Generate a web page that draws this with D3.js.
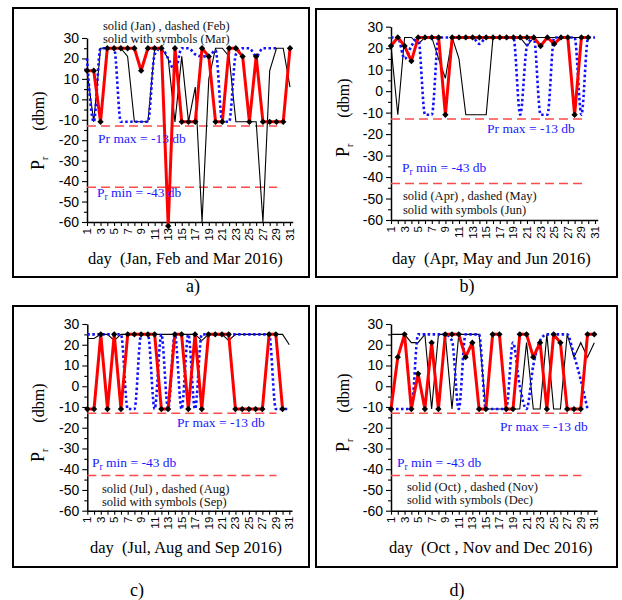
<!DOCTYPE html>
<html><head><meta charset="utf-8">
<script src="https://cdn.jsdelivr.net/npm/d3@7"></script>
<style>body{margin:0;background:#fff}</style>
</head><body><svg id="c" width="622" height="600"></svg>
<script>
// ---------------- DATA ----------------
const days = d3.range(1, 32);
const yTickValues = [-60, -50, -40, -30, -20, -10, 0, 10, 20, 30];
const yMinorValues = [-55, -45, -35, -25, -15, -5, 5, 15, 25];
const xLabelDays = [1, 3, 5, 7, 9, 11, 13, 15, 17, 19, 21, 23, 25, 27, 29, 31];
const prMax = -13, prMin = -43;

// Panel a
const jan = [14,-11,25,25,25,25,21,-11,-11,-11,25,25,20,-11,21,-11,6,-60,10,25,25,21,-11,-11,-11,-11,-60,14,25,25,6];
const feb = [20,-11,25,25,25,-11,-11,-11,-11,-11,22,25,20,14,25,25,22,21,21,24,-11,-11,22,25,25,21,25,25,25];
const mar = [14,14,-11,25,25,25,25,25,14,25,25,25,-62,25,-11,-11,-11,25,21,-11,-11,25,25,21,-11,21,-11,-11,-11,-11,25];
// Panel b
const apr = [21,-11,25,25,22,25,25,15,6,25,15,-11,-11,-11,-11,25,25,25,25,25,21,25,25,25,25,25,25,25,25,25];
const may = [25,25,15,21,25,-11,-11,25,25,25,25,25,25,22,25,25,25,25,25,-11,21,25,-11,-11,25,25,25,25,-11,25,25];
const jun = [21,25,21,14,25,25,25,25,-11,25,25,25,25,25,25,25,25,25,25,25,25,25,21,25,22,25,25,-11,25,25];
// Panel c
const jul = [23,23,25,25,22,25,25,25,25,25,25,25,25,25,25,25,25,22,25,25,25,22,25,25,25,25,25,25,25,25,20];
const aug = [25,25,25,25,25,25,-11,-11,25,25,-11,25,-11,25,-11,25,-11,25,25,25,25,25,25,25,25,25,25,25,-11,-11,-11];
const sep = [-11,-11,25,-11,25,-11,25,25,25,25,25,-11,-11,25,25,-11,25,-11,25,25,25,25,-11,-11,-11,-11,-11,25,25,-11];
// Panel d
const oct = [25,25,25,21,21,25,-11,25,25,-11,25,25,25,25,-11,-11,-11,-11,-11,-11,21,-11,-11,25,-11,-11,25,14,21,14,21];
const nov = [-11,-11,-11,-11,25,25,25,25,25,22,-11,25,25,25,-11,-11,-11,-11,21,0,-11,10,22,25,25,25,25,15,3,-11];
const dec = [-11,14,25,-11,6,-11,21,-11,25,25,25,14,21,-11,-11,25,25,-11,-11,25,25,14,21,-11,25,21,-11,-11,-11,25,25];

const legends = {
  a: ["solid (Jan) , dashed (Feb)", "solid with symbols (Mar)"],
  b: ["solid (Apr) , dashed (May)", "solid with symbols (Jun)"],
  c: ["solid (Jul) , dashed (Aug)", "solid with symbols (Sep)"],
  d: ["solid (Oct) , dashed (Nov)", "solid with symbols (Dec)"]
};
const xTitles = {
  a: "day  (Jan, Feb and Mar 2016)",
  b: "day  (Apr, May and Jun 2016)",
  c: "day  (Jul, Aug and Sep 2016)",
  d: "day  (Oct , Nov and Dec 2016)"
};
const seriesByPanel = {
  a: {black: jan, blue: feb, red: mar},
  b: {black: apr, blue: may, red: jun},
  c: {black: jul, blue: aug, red: sep},
  d: {black: oct, blue: nov, red: dec}
};

// ---------------- LAYOUT ----------------
const layout = [
  {id:"a", box:[13,8,309,277], x0:87, x31:290, yTop:38, yBot:222,
   leg:[103,29.5,42.5], maxL:[98,143], minL:[97,197], xt:[88,264], yt:[44,170], lab:[193,292]},
  {id:"b", box:[316,9,617,277], x0:391, x31:595, yTop:26.7, yBot:220,
   leg:[403,200,214], maxL:[487,133], minL:[402,172], xt:[392,264], yt:[349,157], lab:[467,292]},
  {id:"c", box:[13,306,309,567], x0:87.3, x31:289.3, yTop:324, yBot:510.7,
   leg:[102,493,506], maxL:[177,427], minL:[92,467], xt:[90,553], yt:[44,462], lab:[137,596]},
  {id:"d", box:[316,306,617,567], x0:391, x31:594.3, yTop:324, yBot:510.7,
   leg:[407,491,504], maxL:[500,431], minL:[397,467], xt:[389,553], yt:[349,452], lab:[457,596]}
];

const SERIF = "'Liberation Serif','Times New Roman',serif";
const SANS = "'Liberation Sans',Arial,sans-serif";
const svg = d3.select("#c");

layout.forEach(L => {
  const s = seriesByPanel[L.id];
  const g = svg.append("g");
  // frame
  g.append("rect").attr("x", L.box[0]).attr("y", L.box[1])
    .attr("width", L.box[2]-L.box[0]).attr("height", L.box[3]-L.box[1])
    .attr("fill", "none").attr("stroke", "#000").attr("stroke-width", 2);

  const x = d3.scaleLinear().domain([1, 31]).range([L.x0, L.x31]);
  const y = d3.scaleLinear().domain([-60, 30]).range([L.yBot, L.yTop]);
  const xAxisScale = x.copy().domain([1, 31.4]).range([L.x0, x(31.4)]);

  // y axis
  const ya = g.append("g").attr("transform", `translate(${L.x0},0)`)
    .call(d3.axisLeft(y).tickValues(yTickValues).tickSize(5).tickSizeOuter(0).tickPadding(3).tickFormat(d => String(d)));
  g.append("g").attr("transform", `translate(${L.x0},0)`)
    .call(d3.axisLeft(y).tickValues(yMinorValues).tickSize(3).tickSizeOuter(0).tickFormat(""))
    .select(".domain").remove();
  ya.selectAll("text").attr("font-family", SANS).attr("font-size", 14).attr("fill", "#000");

  // x axis
  g.append("g").attr("transform", `translate(0,${L.yBot})`)
    .call(d3.axisBottom(xAxisScale).tickValues(days).tickSize(4).tickSizeOuter(0).tickFormat(""));
  g.selectAll(".domain").attr("stroke-width", 1.5);
  g.selectAll(".tick line").attr("stroke-width", 1.1);
  const xl = g.append("g");
  xl.selectAll("text").data(xLabelDays).join("text")
    .attr("transform", d => `translate(${x(d)},${L.yBot + 6}) rotate(-90)`)
    .attr("text-anchor", "end").attr("dy", "0.35em")
    .attr("font-family", SANS).attr("font-size", 11.5).text(d => d);

  // reference dashed lines
  [prMax, prMin].forEach(v => {
    g.append("line").attr("x1", L.x0).attr("x2", x(29.1))
      .attr("y1", y(v)).attr("y2", y(v))
      .attr("stroke", "#ff4a4a").attr("stroke-width", 1.5).attr("stroke-dasharray", "9,5");
  });

  const idx = arr => arr.map((v, i) => [i + 1, v]);
  const lin = d3.line().x(d => x(d[0])).y(d => y(d[1]));
  const smooth = d3.line().x(d => x(d[0])).y(d => y(d[1])).curve(d3.curveMonotoneX);

  g.append("path").attr("d", lin(idx(s.black))).attr("fill", "none")
    .attr("stroke", "#000").attr("stroke-width", 1.1);
  g.append("path").attr("d", smooth(idx(s.blue))).attr("fill", "none")
    .attr("stroke", "#1010ff").attr("stroke-width", 2.6).attr("stroke-dasharray", "2.5,2.5");
  g.append("path").attr("d", lin(idx(s.red))).attr("fill", "none")
    .attr("stroke", "#ff0000").attr("stroke-width", 3).attr("stroke-linejoin", "round");
  g.selectAll(".mk").data(idx(s.red)).join("path")
    .attr("transform", d => `translate(${x(d[0])},${y(d[1])})`)
    .attr("d", d3.symbol(d3.symbolSquare, 20)).attr("fill", "#000")
    .attr("transform", d => `translate(${x(d[0])},${y(d[1])}) rotate(45)`);

  // legend texts
  legends[L.id].forEach((t, i) => {
    g.append("text").attr("x", L.leg[0]).attr("y", L.leg[1 + i])
      .attr("font-family", SERIF).attr("font-size", 12.5).attr("fill", "#111").text(t);
  });

  // Pr max / Pr min labels
  g.append("text").attr("x", L.maxL[0]).attr("y", L.maxL[1])
    .attr("font-family", SERIF).attr("font-size", 13.5).attr("fill", "#1a1aff")
    .text("Pr max = -13 db");
  const mn = g.append("text").attr("x", L.minL[0]).attr("y", L.minL[1])
    .attr("font-family", SERIF).attr("font-size", 13.5).attr("fill", "#1a1aff");
  mn.append("tspan").text("P");
  mn.append("tspan").attr("dy", 3).attr("font-size", 9.5).text("r");
  mn.append("tspan").attr("dy", -3).text(" min = -43 db");

  // x title
  g.append("text").attr("x", L.xt[0]).attr("y", L.xt[1])
    .attr("font-family", SERIF).attr("font-size", 16.5).attr("fill", "#000")
    .style("white-space", "pre").text(xTitles[L.id]);

  // y title
  const yt = g.append("text")
    .attr("transform", `translate(${L.yt[0]},${L.yt[1]}) rotate(-90)`)
    .attr("font-family", SERIF).attr("fill", "#000");
  yt.append("tspan").attr("font-size", 18).text("P");
  yt.append("tspan").attr("font-size", 10).attr("dy", 4).text("r");
  yt.append("tspan").attr("font-size", 16).attr("dy", -4).attr("dx", 26).text("(dbm)");

  // panel label
  g.append("text").attr("x", L.lab[0]).attr("y", L.lab[1]).attr("text-anchor", "middle")
    .attr("font-family", SERIF).attr("font-size", 18).attr("fill", "#000").text(L.id + ")");
});
</script>
</body></html>
